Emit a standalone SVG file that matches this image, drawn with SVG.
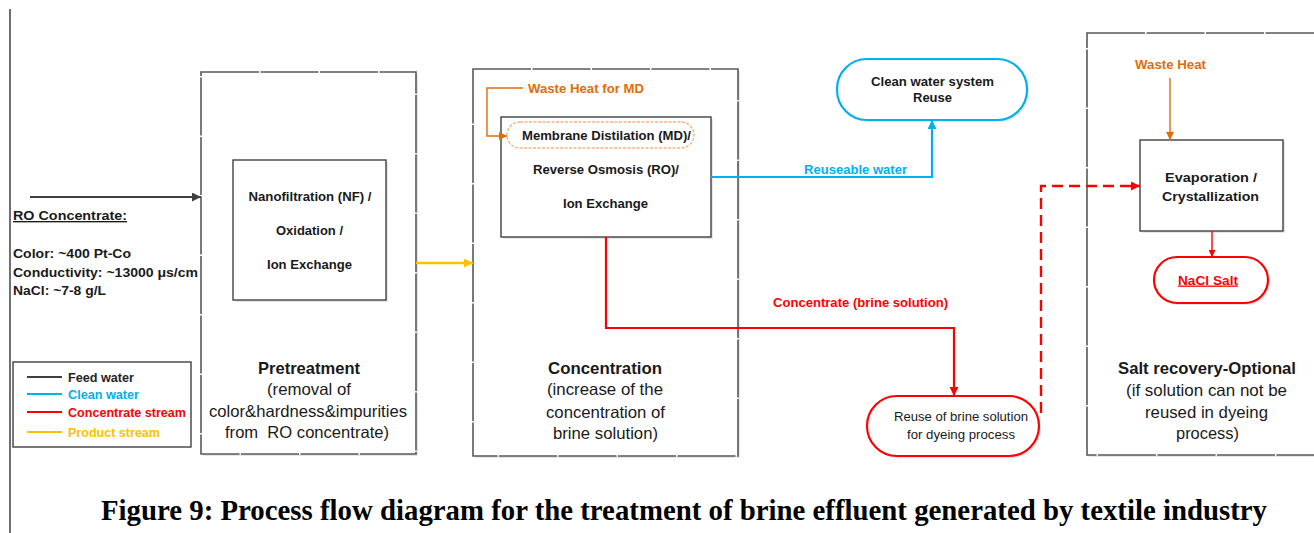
<svg xmlns="http://www.w3.org/2000/svg" width="1314" height="533" viewBox="0 0 1314 533">
<style>
.stage{fill:#fff;stroke:#595959;stroke-width:1.6;stroke-dasharray:58 1.5}
.shadow{fill:#e6e6e6;stroke:none}
.box{fill:#fff;stroke:#404040;stroke-width:1.4}
.t{font-family:"Liberation Sans",Arial,sans-serif;fill:#1a1a1a}
.b{font-weight:bold}
.s{font-size:12.5px}
.m{font-size:13px}
.l{font-size:16.5px}
.c{text-anchor:middle}
.orange{fill:#e36c0a}
.blue{fill:#00b0f0}
.red{fill:#ff0000}
.gold{fill:#ffc000}
.dk{fill:#262626}
</style>
<defs>
<marker id="aDark" viewBox="0 0 10 10" refX="10" refY="5" markerWidth="11" markerHeight="9" markerUnits="userSpaceOnUse" orient="auto"><path d="M0,0 L10,5 L0,10 z" fill="#404040"/></marker>
<marker id="aGold" viewBox="0 0 10 10" refX="10" refY="5" markerWidth="10" markerHeight="9" markerUnits="userSpaceOnUse" orient="auto"><path d="M0,0 L10,5 L0,10 z" fill="#ffc000"/></marker>
<marker id="aBlue" viewBox="0 0 10 10" refX="10" refY="5" markerWidth="10" markerHeight="9" markerUnits="userSpaceOnUse" orient="auto"><path d="M0,0 L10,5 L0,10 z" fill="#00b0f0"/></marker>
<marker id="aRed" viewBox="0 0 10 10" refX="10" refY="5" markerWidth="10" markerHeight="9" markerUnits="userSpaceOnUse" orient="auto"><path d="M0,0 L10,5 L0,10 z" fill="#ff0000"/></marker>
<marker id="aRedS" viewBox="0 0 10 10" refX="10" refY="5" markerWidth="8" markerHeight="7" markerUnits="userSpaceOnUse" orient="auto"><path d="M0,0 L10,5 L0,10 z" fill="#ff0000"/></marker>
<marker id="aOr" viewBox="0 0 10 10" refX="10" refY="5" markerWidth="9" markerHeight="8" markerUnits="userSpaceOnUse" orient="auto"><path d="M0,0 L10,5 L0,10 z" fill="#e36c0a"/></marker>
</defs>
<rect width="1314" height="533" fill="#fff"/>
<line x1="10" y1="9" x2="10" y2="533" stroke="#404040" stroke-width="1.5"/>

<g id="ro-info">
<text class="t b" x="13" y="220" font-size="13.5" textLength="114" lengthAdjust="spacingAndGlyphs" text-decoration="underline">RO Concentrate:</text>
<text class="t b" x="13" y="258" font-size="13" textLength="118" lengthAdjust="spacingAndGlyphs">Color: ~400 Pt-Co</text>
<text class="t b" x="13" y="277" font-size="13" textLength="185" lengthAdjust="spacingAndGlyphs">Conductivity: ~13000 μs/cm</text>
<text class="t b" x="13" y="295" font-size="13" textLength="93" lengthAdjust="spacingAndGlyphs">NaCl: ~7-8 g/L</text>
</g>

<g id="legend">
<rect x="13" y="362" width="178" height="85" fill="#fff" stroke="#404040" stroke-width="1.4"/>
<line x1="27" y1="377" x2="62" y2="377" stroke="#404040" stroke-width="2.2"/>
<line x1="27" y1="394" x2="62" y2="394" stroke="#00b0f0" stroke-width="2.2"/>
<line x1="27" y1="412" x2="62" y2="412" stroke="#ff0000" stroke-width="2.2"/>
<line x1="27" y1="432" x2="62" y2="432" stroke="#ffc000" stroke-width="2.2"/>
<text class="t b s dk" x="68" y="381.5" textLength="66" lengthAdjust="spacingAndGlyphs">Feed water</text>
<text class="t b s blue" x="68" y="398.5" textLength="71" lengthAdjust="spacingAndGlyphs">Clean water</text>
<text class="t b s red" x="68" y="416.5" textLength="118" lengthAdjust="spacingAndGlyphs">Concentrate stream</text>
<text class="t b s gold" x="68" y="436.5" textLength="92" lengthAdjust="spacingAndGlyphs">Product stream</text>
</g>

<g id="pretreatment">
<rect class="shadow" x="203" y="74" width="215" height="382"/>
<rect class="stage" x="201" y="72" width="215" height="382"/>
<text class="t b l c" x="309" y="374" textLength="102" lengthAdjust="spacingAndGlyphs">Pretreatment</text>
<text class="t l c" x="309" y="395" textLength="84" lengthAdjust="spacingAndGlyphs">(removal of</text>
<text class="t l c" x="308" y="417" textLength="198" lengthAdjust="spacingAndGlyphs">color&amp;hardness&amp;impurities</text>
<text class="t l c" x="307" y="438" textLength="164" lengthAdjust="spacingAndGlyphs" xml:space="preserve">from  RO concentrate)</text>
</g>

<g id="nf-box">
<rect class="shadow" x="235" y="162" width="153" height="140"/>
<rect class="box" x="233" y="160" width="153" height="140"/>
<text class="t b m c" x="310" y="200.5" textLength="123" lengthAdjust="spacingAndGlyphs">Nanofiltration (NF) /</text>
<text class="t b m c" x="309.5" y="234.5" textLength="67" lengthAdjust="spacingAndGlyphs">Oxidation /</text>
<text class="t b m c" x="309.5" y="268.5" textLength="85" lengthAdjust="spacingAndGlyphs">Ion Exchange</text>
</g>

<g id="concentration">
<rect class="shadow" x="475" y="71" width="265" height="387"/>
<rect class="stage" x="473" y="69" width="265" height="387"/>
<text class="t b l c" x="605" y="374" textLength="114" lengthAdjust="spacingAndGlyphs">Concentration</text>
<text class="t l c" x="605" y="395" textLength="116" lengthAdjust="spacingAndGlyphs">(increase of the</text>
<text class="t l c" x="605.5" y="418" textLength="119" lengthAdjust="spacingAndGlyphs">concentration of</text>
<text class="t l c" x="605.5" y="439" textLength="105" lengthAdjust="spacingAndGlyphs">brine solution)</text>
</g>

<g id="md-box">
<rect class="shadow" x="503" y="119" width="210" height="120"/>
<rect class="box" x="501" y="117" width="210" height="120"/>
<rect x="507" y="122" width="187" height="26" rx="13" fill="#fff" stroke="#f4b183" stroke-width="1.4" stroke-dasharray="3 1.5"/>
<text class="t b m c" x="606.5" y="139.5" textLength="169" lengthAdjust="spacingAndGlyphs">Membrane Distilation (MD)/</text>
<text class="t b m c" x="606" y="173.5" textLength="146" lengthAdjust="spacingAndGlyphs">Reverse Osmosis (RO)/</text>
<text class="t b m c" x="605.5" y="207.5" textLength="85" lengthAdjust="spacingAndGlyphs">Ion Exchange</text>
</g>

<g id="waste-heat-md">
<text class="t b m orange" x="528" y="92.5" textLength="116" lengthAdjust="spacingAndGlyphs">Waste Heat for MD</text>
</g>

<g id="clean-water-reuse">
<rect class="shadow" x="839" y="61" width="190" height="61" rx="30"/>
<rect x="837" y="59" width="190" height="61" rx="30" fill="#fff" stroke="#00b0f0" stroke-width="2.2"/>
<text class="t b m c" x="932.5" y="85.5" textLength="123" lengthAdjust="spacingAndGlyphs">Clean water system</text>
<text class="t b m c" x="932.5" y="101.5" textLength="39" lengthAdjust="spacingAndGlyphs">Reuse</text>
</g>

<g id="brine-reuse">
<rect class="shadow" x="869" y="398" width="172" height="60" rx="30"/>
<rect x="867" y="396" width="172" height="60" rx="30" fill="#fff" stroke="#ff0000" stroke-width="2.2"/>
<text class="t m c" x="961" y="421" textLength="134" lengthAdjust="spacingAndGlyphs">Reuse of brine solution</text>
<text class="t m c" x="961" y="439" textLength="108" lengthAdjust="spacingAndGlyphs">for dyeing process</text>
</g>

<g id="salt-recovery">
<rect class="shadow" x="1089" y="35" width="240" height="422"/>
<rect class="stage" x="1087" y="33" width="240" height="422"/>
<text class="t b l c" x="1207" y="374" textLength="178" lengthAdjust="spacingAndGlyphs">Salt recovery-Optional</text>
<text class="t l c" x="1206.5" y="396" textLength="161" lengthAdjust="spacingAndGlyphs">(if solution can not be</text>
<text class="t l c" x="1206.5" y="418" textLength="123" lengthAdjust="spacingAndGlyphs">reused in dyeing</text>
<text class="t l c" x="1207.5" y="439" textLength="63" lengthAdjust="spacingAndGlyphs">process)</text>
</g>

<g id="waste-heat">
<text class="t b m c orange" x="1170.5" y="68.5" textLength="71" lengthAdjust="spacingAndGlyphs">Waste Heat</text>
</g>

<g id="evaporation">
<rect class="shadow" x="1142" y="142" width="143" height="91"/>
<rect class="box" x="1140" y="140" width="143" height="91"/>
<text class="t b m c" x="1211" y="181.5" textLength="92" lengthAdjust="spacingAndGlyphs">Evaporation /</text>
<text class="t b m c" x="1210.5" y="200.5" textLength="97" lengthAdjust="spacingAndGlyphs">Crystallization</text>
</g>

<g id="nacl-salt">
<rect class="shadow" x="1156" y="259" width="114" height="46" rx="23"/>
<rect x="1154" y="257" width="114" height="46" rx="23" fill="#fff" stroke="#ff0000" stroke-width="2.2"/>
<text class="t b m c red" x="1208" y="284.5" textLength="60" lengthAdjust="spacingAndGlyphs" text-decoration="underline">NaCl Salt</text>
</g>

<g id="connectors" fill="none">
<line x1="30" y1="197" x2="201" y2="197" stroke="#404040" stroke-width="2.2" marker-end="url(#aDark)"/>
<line x1="416" y1="263" x2="473" y2="263" stroke="#ffc000" stroke-width="2.4" marker-end="url(#aGold)"/>
<polyline points="523,88 487,88 487,136 507,136" stroke="#e36c0a" stroke-width="1.4" marker-end="url(#aOr)"/>
<polyline points="711,177 932,177 932,120" stroke="#00b0f0" stroke-width="2.2" marker-end="url(#aBlue)"/>
<polyline points="606,237 606,328 954,328 954,396" stroke="#ff0000" stroke-width="2.2" marker-end="url(#aRed)"/>
<polyline points="1041,413 1041,186 1140,186" stroke="#ff0000" stroke-width="2.4" stroke-dasharray="11 6" marker-end="url(#aRed)"/>
<line x1="1170" y1="78" x2="1170" y2="140" stroke="#e36c0a" stroke-width="1.4" marker-end="url(#aOr)"/>
<line x1="1212" y1="231" x2="1212" y2="257" stroke="#ff0000" stroke-width="1.4" marker-end="url(#aRedS)"/>
<text class="t b m blue" x="804" y="173.5" textLength="103" lengthAdjust="spacingAndGlyphs">Reuseable water</text>
<text class="t b m red" x="773" y="306.5" textLength="175" lengthAdjust="spacingAndGlyphs">Concentrate (brine solution)</text>
</g>

<text x="101" y="520" font-family="'Liberation Serif','Times New Roman',serif" font-weight="bold" font-size="30" fill="#000" textLength="1166" lengthAdjust="spacingAndGlyphs">Figure 9: Process flow diagram for the treatment of brine effluent generated by textile industry</text>
</svg>
